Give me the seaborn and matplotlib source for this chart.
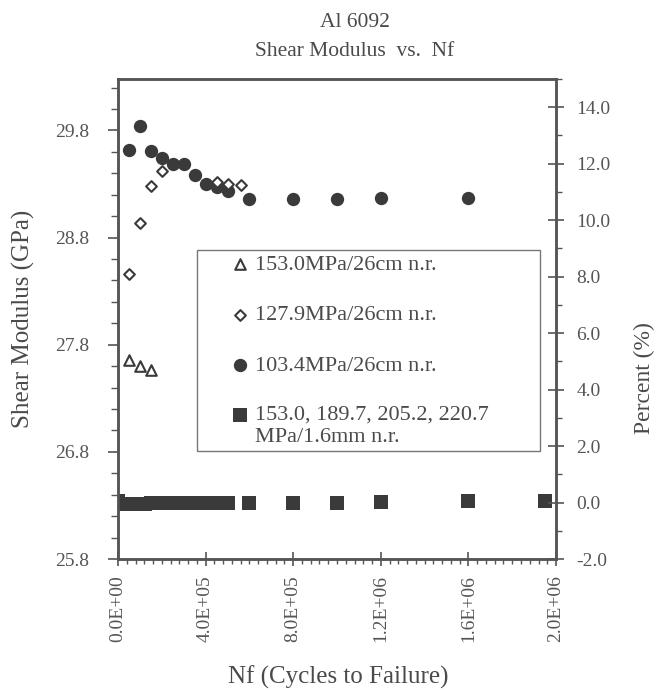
import matplotlib
matplotlib.use("Agg")
import matplotlib.pyplot as plt
import seaborn as sns
from matplotlib.ticker import MultipleLocator, FixedLocator, FuncFormatter
from matplotlib.legend_handler import HandlerPathCollection

# values
tri_nf = [50000, 100000, 150000]
tri_g = [27.655, 27.60, 27.56]

dia_nf = [50000, 100000, 150000, 200000, 450000, 500000, 560000]
dia_g = [28.46, 28.94, 29.28, 29.42, 29.32, 29.30, 29.29]

circ_nf = [50000, 100000, 150000, 200000, 250000, 300000, 350000, 400000,
           450000, 500000, 600000, 800000, 1000000, 1200000, 1600000]
circ_g = [29.62, 29.84, 29.61, 29.545, 29.49, 29.49, 29.38, 29.30,
          29.27, 29.23, 29.16, 29.16, 29.16, 29.17, 29.17]

sq_nf = [0, 25000, 50000, 75000, 100000, 125000, 150000, 175000, 200000,
         225000, 250000, 275000, 300000, 325000, 350000, 375000, 400000,
         425000, 450000, 475000, 500000, 600000, 800000, 1000000, 1200000,
         1600000, 1950000]
sq_g = [26.34, 26.31, 26.31, 26.31, 26.31, 26.31, 26.32, 26.32, 26.32,
        26.32, 26.32, 26.32, 26.32, 26.32, 26.32, 26.32, 26.32,
        26.32, 26.32, 26.32, 26.32, 26.32, 26.32, 26.32, 26.33,
        26.34, 26.34]

labels = ["153.0MPa/26cm n.r.", "127.9MPa/26cm n.r.", "103.4MPa/26cm n.r.",
          "153.0, 189.7, 205.2, 220.7\nMPa/1.6mm n.r."]

x_ticks = [0, 400000, 800000, 1200000, 1600000, 2000000]
g_ticks = [25.8, 26.8, 27.8, 28.8, 29.8]

sns.set_theme(style="ticks")
plt.rcParams['font.family'] = ['Liberation Serif', 'DejaVu Serif']
txt = '#4a4a4a'
dark = '#3a3a3a'
plt.rcParams['text.color'] = txt
plt.rcParams['axes.labelcolor'] = txt
plt.rcParams['xtick.color'] = '#555555'
plt.rcParams['ytick.color'] = '#555555'

fig = plt.figure(figsize=(6.56, 6.91), dpi=100)
ax = fig.add_axes([0.1799, 0.191, 0.6677, 0.6947])

# squares first, then triangles, circles, open diamonds on top
sns.scatterplot(x=sq_nf, y=sq_g, marker='s', s=88, color=dark,
                edgecolor=dark, linewidth=0, ax=ax, zorder=3)
sns.scatterplot(x=tri_nf, y=tri_g, marker='^', s=58, facecolor='white',
                edgecolor=dark, linewidth=1.5, ax=ax, zorder=4)
sns.scatterplot(x=circ_nf, y=circ_g, marker='o', s=92, color=dark,
                edgecolor=dark, linewidth=0, ax=ax, zorder=5)
sns.scatterplot(x=dia_nf, y=dia_g, marker='D', s=30, facecolor='white',
                edgecolor=dark, linewidth=1.5, ax=ax, zorder=6)

colls = ax.collections
handles = [colls[1], colls[3], colls[2], colls[0]]

ax.set_xlim(0, 2000000)
ax.set_ylim(25.8, 30.28)
ax.xaxis.set_major_locator(FixedLocator(x_ticks))
ax.xaxis.set_minor_locator(MultipleLocator(40000))
ax.xaxis.set_major_formatter(FuncFormatter(lambda v, p: f"{v:.1E}"))
ax.yaxis.set_major_locator(FixedLocator(g_ticks))
ax.yaxis.set_minor_locator(MultipleLocator(0.2))
ax.yaxis.set_major_formatter(FuncFormatter(lambda v, p: f"{v:.1f}"))

ax.tick_params(axis='x', which='major', direction='inout', length=9.5,
               width=1.2, labelsize=14, labelrotation=90, pad=7)
ax.tick_params(axis='x', which='minor', direction='out', length=3.6, width=1)
ax.tick_params(axis='y', which='major', direction='out', length=7,
               width=1.2, labelsize=14, pad=13.5)
ax.tick_params(axis='y', which='minor', direction='out', length=5, width=1)

ax2 = ax.twinx()
ax2.set_ylim(-2, 15)
ax2.yaxis.set_major_locator(MultipleLocator(2))
ax2.yaxis.set_minor_locator(MultipleLocator(1))
ax2.yaxis.set_major_formatter(FuncFormatter(lambda v, p: f"{v:.1f}"))
ax2.tick_params(axis='y', which='major', direction='inout', length=11.5,
                width=1.2, labelsize=14, pad=9)
ax2.tick_params(axis='y', which='minor', direction='out', length=4.5, width=1)

for a in (ax, ax2):
    for sp in a.spines.values():
        sp.set_color('#555555')
        sp.set_linewidth(1.8)

ax.set_xlabel("Nf (Cycles to Failure)", fontsize=18)
ax.xaxis.set_label_coords(0.502, -0.222)
ax.set_ylabel("Shear Modulus (GPa)", fontsize=18)
ax.yaxis.set_label_coords(-0.19, 0.5)
ax2.set_ylabel("Percent (%)", fontsize=17)
ax2.yaxis.set_label_coords(1.178, 0.377)

fig.text(0.541, 0.961, "Al 6092", ha='center', va='baseline', fontsize=15.5)
fig.text(0.541, 0.919, "Shear Modulus  vs.  Nf", ha='center',
         va='baseline', fontsize=15.5)

leg = ax2.legend(handles, labels, loc='upper left',
                 bbox_to_anchor=(0.1804, 0.2, 0.783, 0.444), mode='expand',
                 borderaxespad=0, fontsize=16, frameon=True, fancybox=False,
                 framealpha=1, edgecolor='#777777', borderpad=0.2,
                 handlelength=3.48, handletextpad=-1.06, labelspacing=1.35,
                 scatterpoints=1,
                 handler_map={handles[3]: HandlerPathCollection(yoffsets=[1.2])})
leg.get_frame().set_linewidth(1.0)
for t in leg.get_texts():
    t.set_color(txt)

fig.savefig("out.png", dpi=100)
